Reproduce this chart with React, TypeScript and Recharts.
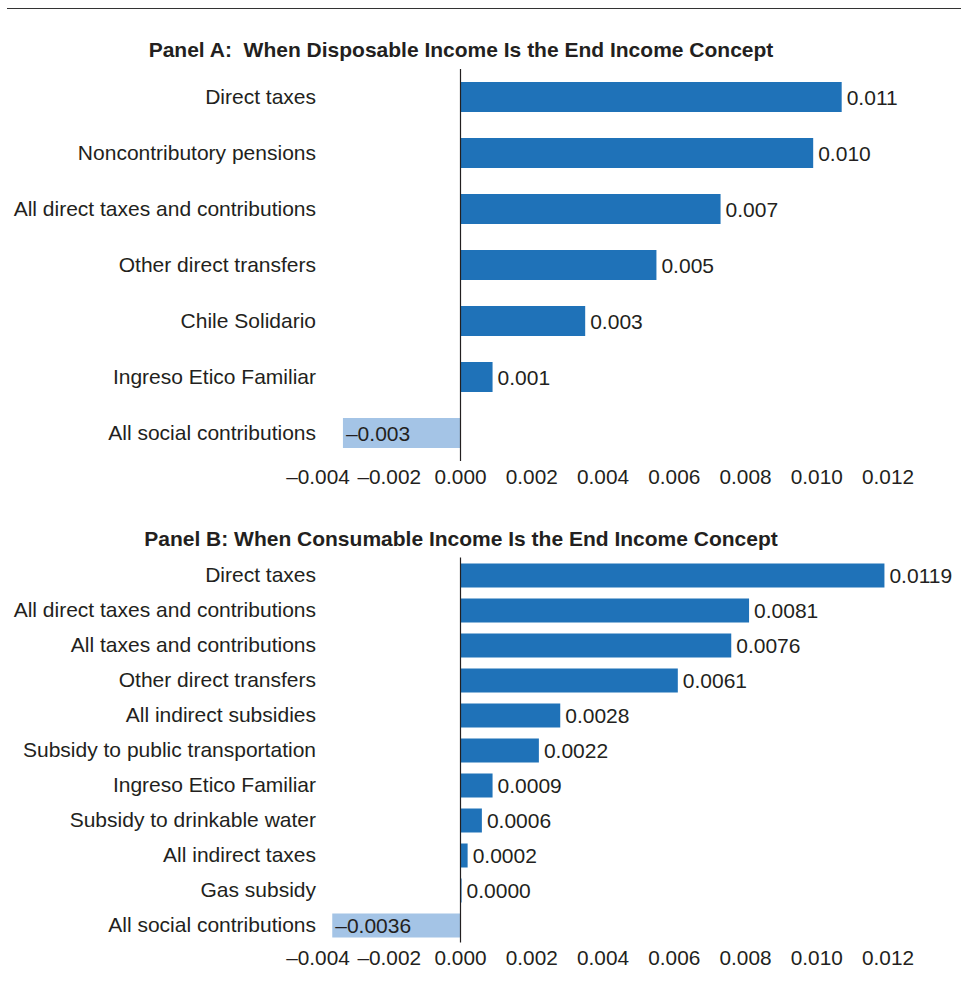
import { BarChart, Bar, XAxis, YAxis, Cell, LabelList, ReferenceLine } from 'recharts';

const ticks = [-0.004, -0.002, 0, 0.002, 0.004, 0.006, 0.008, 0.01, 0.012];

// Panel A: disposable income
const categoriesA = [
  'Direct taxes',
  'Noncontributory pensions',
  'All direct taxes and contributions',
  'Other direct transfers',
  'Chile Solidario',
  'Ingreso Etico Familiar',
  'All social contributions',
];
const valuesA = [0.0107, 0.0099, 0.0073, 0.0055, 0.0035, 0.0009, -0.0033];
const labelsA = ['0.011', '0.010', '0.007', '0.005', '0.003', '0.001', '–0.003'];

// Panel B: consumable income
const categoriesB = [
  'Direct taxes',
  'All direct taxes and contributions',
  'All taxes and contributions',
  'Other direct transfers',
  'All indirect subsidies',
  'Subsidy to public transportation',
  'Ingreso Etico Familiar',
  'Subsidy to drinkable water',
  'All indirect taxes',
  'Gas subsidy',
  'All social contributions',
];
const valuesB = [0.0119, 0.0081, 0.0076, 0.0061, 0.0028, 0.0022, 0.0009, 0.0006, 0.0002, 0.00003, -0.0036];
const labelsB = ['0.0119', '0.0081', '0.0076', '0.0061', '0.0028', '0.0022', '0.0009', '0.0006', '0.0002', '0.0000', '–0.0036'];

const DARK = '#1f72b8';
const LIGHT = '#a4c4e6';
const TEXT = '#231f20';
const FONT = '"Liberation Sans", Arial, Helvetica, sans-serif';

const fmtTick = (v: number) => (v < 0 ? '–' : '') + Math.abs(v).toFixed(3);

function BarLabel(props: any) {
  const { x, y, width, height, value } = props;
  const left = Math.min(x, x + width);
  const right = Math.max(x, x + width);
  const neg = typeof value === 'string' && value.startsWith('–');
  return (
    <text
      x={neg ? left + 3 : right + 5}
      y={y + height / 2}
      dy="0.36em"
      textAnchor="start"
      fill={TEXT}
      fontSize={21}
      fontFamily={FONT}
    >
      {value}
    </text>
  );
}

function Panel({ cats, vals, labels, height, top, bottom, barSize }: any) {
  const data = cats.map((c: string, i: number) => ({ name: c, value: vals[i], label: labels[i] }));
  return (
    <BarChart
      width={961}
      height={height}
      data={data}
      layout="vertical"
      margin={{ top, right: 73, bottom, left: 0 }}
      barCategoryGap={0}
    >
      <XAxis
        type="number"
        domain={[-0.004, 0.012]}
        ticks={ticks}
        tickFormatter={fmtTick}
        axisLine={false}
        tickLine={false}
        interval={0}
        tick={{ fill: TEXT, fontSize: 20.8, fontFamily: FONT }}
      />
      <YAxis
        type="category"
        dataKey="name"
        width={318}
        axisLine={false}
        tickLine={false}
        tickSize={0}
        tickMargin={2}
        interval={0}
        tick={{ fill: TEXT, fontSize: 21, fontFamily: FONT }}
      />
      <Bar dataKey="value" barSize={barSize} isAnimationActive={false}>
        {data.map((d: any, i: number) => (
          <Cell key={i} fill={d.value < 0 ? LIGHT : DARK} />
        ))}
        <LabelList dataKey="label" content={BarLabel} />
      </Bar>
      <ReferenceLine x={0} stroke="#231f20" strokeWidth={1.2} />
    </BarChart>
  );
}

const titleStyle: any = {
  position: 'absolute',
  left: 0,
  width: 922,
  textAlign: 'center',
  fontWeight: 'bold',
  fontSize: 21,
  fontFamily: FONT,
  color: TEXT,
  lineHeight: '24px',
};

export default function App() {
  return (
    <div style={{ position: 'absolute', left: 0, top: 0, width: 961, height: 983, background: '#fff', overflow: 'hidden' }}>
      <div style={{ position: 'absolute', left: 7, top: 8, width: 954, borderTop: '1.5px solid #333' }} />
      <div style={{ ...titleStyle, top: 38 }}>Panel A:&nbsp; When Disposable Income Is the End Income Concept</div>
      <div style={{ position: 'absolute', left: 0, top: 0 }}>
        <Panel cats={categoriesA} vals={valuesA} labels={labelsA} height={520} top={69} bottom={29} barSize={30} />
      </div>
      <div style={{ ...titleStyle, top: 527 }}>Panel B: When Consumable Income Is the End Income Concept</div>
      <div style={{ position: 'absolute', left: 0, top: 500 }}>
        <Panel cats={categoriesB} vals={valuesB} labels={labelsB} height={483} top={57.5} bottom={10.5} barSize={24} />
      </div>
    </div>
  );
}
